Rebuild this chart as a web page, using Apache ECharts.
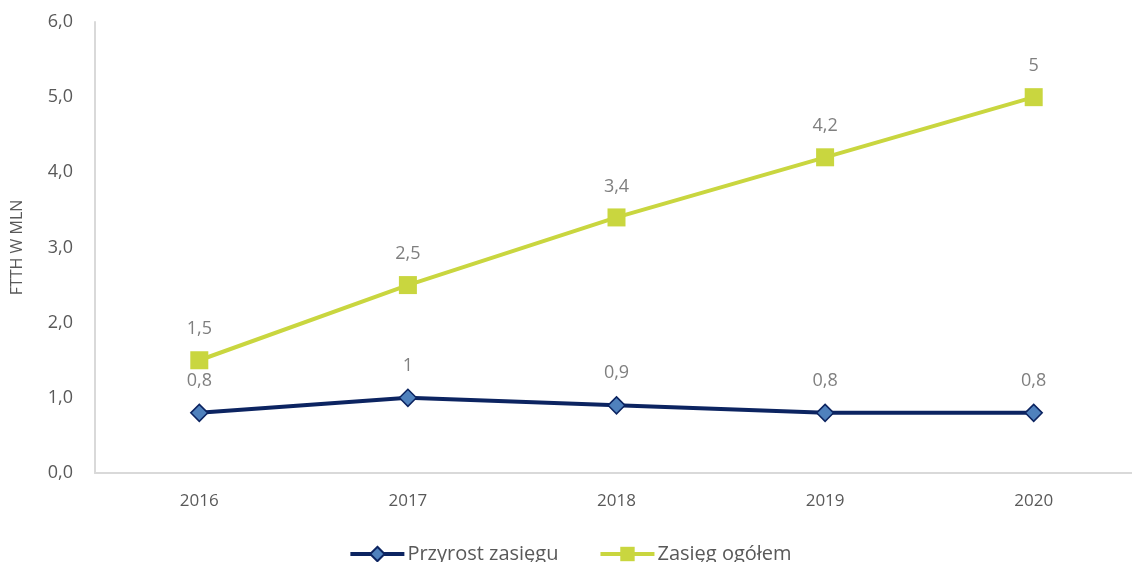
<!DOCTYPE html>
<html>
<head>
<meta charset="utf-8">
<script src="https://cdn.jsdelivr.net/npm/echarts@6/dist/echarts.min.js"></script>
<style>
  html, body { margin: 0; padding: 0; background: #fff; overflow: hidden; }
  #chart { width: 1140px; height: 562px; }
</style>
</head>
<body>
<div id="chart"></div>
<script>
const years = ['2016', '2017', '2018', '2019', '2020'];
const przyrost = [0.8, 1, 0.9, 0.8, 0.8];
const zasieg = [1.5, 2.5, 3.4, 4.2, 5];
const yTicks = [0, 1, 2, 3, 4, 5, 6];

const font = '"Open Sans", "Noto Sans", sans-serif';
const labelFmt = p => String(p.value).replace('.', ',');

// chart is a bit wider than the window so the last category band runs off the right edge
const chart = echarts.init(document.getElementById('chart'));
chart.setOption({
  animation: false,
  textStyle: { fontFamily: font },
  grid: { left: 95, right: 2, top: 22, bottom: 89, containLabel: false },
  legend: {
    top: 539,
    left: 'center',
    itemWidth: 54,
    itemHeight: 18,
    itemGap: 40,
    lineStyle: { width: 4 },
    textStyle: { fontSize: 20, color: '#595959', fontFamily: font, padding: [0, 0, 0, -2] },
    data: ['Przyrost zasięgu', 'Zasięg ogółem']
  },
  xAxis: {
    type: 'category',
    data: years,
    axisLine: { lineStyle: { color: '#d9d9d9', width: 2 } },
    axisTick: { show: false },
    axisLabel: { fontSize: 17, color: '#595959', margin: 20, fontFamily: font }
  },
  yAxis: {
    type: 'value',
    min: yTicks[0],
    max: yTicks[yTicks.length - 1],
    interval: 1,
    name: 'FTTH W MLN',
    nameLocation: 'middle',
    nameGap: 70,
    nameTextStyle: { fontSize: 16, color: '#595959', fontFamily: font },
    axisLine: { show: true, lineStyle: { color: '#d9d9d9', width: 2 } },
    axisTick: { show: false },
    splitLine: { show: false },
    axisLabel: {
      fontSize: 18, color: '#595959', margin: 22, fontFamily: font,
      formatter: v => v.toFixed(1).replace('.', ',')
    }
  },
  series: [
    {
      name: 'Przyrost zasięgu',
      type: 'line',
      data: przyrost,
      symbol: 'diamond',
      symbolSize: 17,
      lineStyle: { color: '#0c2461', width: 4 },
      itemStyle: { color: '#4f81bd', borderColor: '#0c2461', borderWidth: 1.5 },
      label: {
        show: true, position: 'top', distance: 14,
        fontSize: 18, color: '#7f7f7f', fontFamily: font, formatter: labelFmt
      },
      z: 3
    },
    {
      name: 'Zasięg ogółem',
      type: 'line',
      data: zasieg,
      symbol: 'rect',
      symbolSize: 18,
      lineStyle: { color: '#c9d63f', width: 4 },
      itemStyle: { color: '#c9d63f', borderWidth: 0 },
      label: {
        show: true, position: 'top', distance: 13,
        fontSize: 18, color: '#7f7f7f', fontFamily: font, formatter: labelFmt
      },
      z: 2
    }
  ]
});
</script>
</body>
</html>
